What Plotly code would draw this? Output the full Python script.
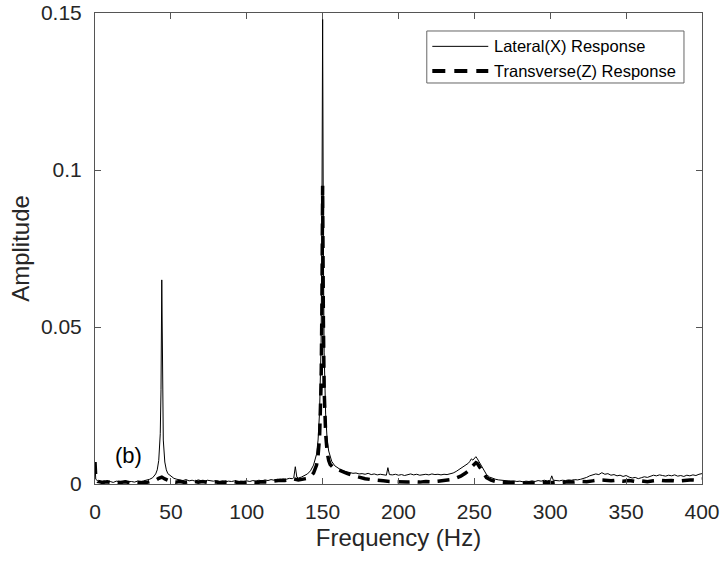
import plotly.graph_objects as go

# Lateral (X) response spectrum
lat_freq = [0, 0.5, 2, 4, 6, 8, 10, 12, 14, 16, 18, 20, 22, 24, 26, 28, 30, 32, 34, 36, 38, 40, 41, 42, 43, 43.5, 44, 44.5, 45, 46, 47, 48,
            50, 52, 54, 56, 58, 60, 62, 64, 66, 68, 70, 72, 74, 76, 78, 80, 82, 84, 86, 88, 90, 92, 94, 96, 98, 100,
            102, 104, 106, 108, 110, 112, 114, 116, 118, 120, 122, 124, 126, 128, 130, 131, 132, 133, 134, 136, 138, 140,
            142, 144, 146, 147, 148, 149, 149.5, 150, 150.5, 151, 152, 153, 154, 155, 156, 158, 160, 162, 164, 166, 168, 170,
            172, 174, 176, 178, 180, 182, 184, 186, 188, 190, 192, 193, 194, 196, 198, 200, 202, 204, 206, 208, 210,
            212, 214, 216, 218, 220, 222, 224, 226, 228, 230, 232, 234, 236, 238, 240, 242, 244, 246, 247, 248, 249, 250,
            251, 252, 253, 254, 256, 258, 260, 262, 264, 266, 268, 270, 272, 274, 276, 278, 280, 282, 284, 286, 288, 290,
            292, 294, 296, 298, 300, 301, 302, 304, 306, 308, 310, 312, 314, 316, 318, 320, 322, 324, 326, 328, 330,
            332, 334, 336, 338, 340, 342, 344, 346, 348, 350, 352, 354, 356, 358, 360, 362, 364, 366, 368, 370,
            372, 374, 376, 378, 380, 382, 384, 386, 388, 390, 392, 394, 396, 398, 400]
lat_amp = [0.0060, 0.0015, 0.0009, 0.0007, 0.0010, 0.0006, 0.0008, 0.0005, 0.0009, 0.0007, 0.0006, 0.0010, 0.0007, 0.0008,
           0.0006, 0.0009, 0.0007, 0.0010, 0.0012, 0.0015, 0.0020, 0.0032, 0.0045, 0.0075, 0.0160, 0.0300, 0.0650, 0.0280,
           0.0140, 0.0070, 0.0045, 0.0033,
           0.0024, 0.0018, 0.0015, 0.0013, 0.0011, 0.0014, 0.0010, 0.0012, 0.0009, 0.0013, 0.0011, 0.0008, 0.0012, 0.0010,
           0.0009, 0.0011, 0.0008, 0.0010, 0.0007, 0.0009, 0.0008, 0.0010, 0.0007, 0.0009, 0.0008, 0.0010,
           0.0008, 0.0011, 0.0009, 0.0012, 0.0010, 0.0013, 0.0011, 0.0014, 0.0012, 0.0015, 0.0013, 0.0016, 0.0015, 0.0018,
           0.0017, 0.0020, 0.0055, 0.0022, 0.0019, 0.0022, 0.0026, 0.0032,
           0.0042, 0.0060, 0.0095, 0.0140, 0.0230, 0.0450, 0.0800, 0.1480, 0.0750, 0.0420, 0.0220, 0.0140, 0.0105, 0.0085,
           0.0072, 0.0058, 0.0050, 0.0045, 0.0041, 0.0038, 0.0036, 0.0034,
           0.0035, 0.0032, 0.0033, 0.0031, 0.0034, 0.0030, 0.0032, 0.0029, 0.0031, 0.0030, 0.0028, 0.0052, 0.0030, 0.0029,
           0.0031, 0.0028, 0.0030, 0.0027, 0.0030, 0.0032, 0.0029,
           0.0031, 0.0028, 0.0030, 0.0031, 0.0029, 0.0032, 0.0030, 0.0031, 0.0029, 0.0031, 0.0030, 0.0032, 0.0035, 0.0040,
           0.0046, 0.0053, 0.0060, 0.0066, 0.0072, 0.0080, 0.0076, 0.0082,
           0.0087, 0.0080, 0.0072, 0.0062, 0.0045, 0.0030, 0.0022, 0.0018, 0.0015, 0.0013, 0.0012, 0.0010, 0.0011, 0.0009,
           0.0010, 0.0008, 0.0009, 0.0007, 0.0009, 0.0008, 0.0010, 0.0008,
           0.0011, 0.0009, 0.0012, 0.0010, 0.0012, 0.0026, 0.0012, 0.0011, 0.0010, 0.0012, 0.0011, 0.0013, 0.0012, 0.0014,
           0.0013, 0.0015, 0.0017, 0.0021, 0.0026, 0.0029, 0.0032,
           0.0030, 0.0036, 0.0031, 0.0033, 0.0028, 0.0030, 0.0026, 0.0028, 0.0024, 0.0027, 0.0022, 0.0019, 0.0021, 0.0017,
           0.0020, 0.0023, 0.0021, 0.0025, 0.0028, 0.0026,
           0.0029, 0.0027, 0.0025, 0.0028, 0.0026, 0.0029, 0.0025, 0.0027, 0.0024, 0.0028, 0.0026, 0.0029, 0.0027, 0.0031,
           0.0033]

# Transverse (Z) response spectrum
tra_freq = [0, 0.5, 2, 5, 8, 11, 14, 17, 20, 23, 26, 29, 32, 35, 38, 40, 42, 44, 46, 48, 50, 53, 56, 59, 62, 65, 68, 71,
            74, 77, 80, 83, 86, 89, 92, 95, 98, 101, 104, 107, 110, 113, 116, 119, 122, 125, 128, 131, 134, 137, 140,
            142, 144, 146, 147, 148, 149, 149.5, 150, 150.5, 151, 152, 153, 154, 155, 157, 160, 163, 166, 170, 174, 178,
            182, 186, 190, 194, 198, 202, 206, 210, 214, 218, 222, 226, 230, 234, 238, 241, 244, 246, 248, 250, 251,
            252, 254, 256, 258, 261, 264, 268, 272, 276, 280, 284, 288, 292, 296, 300, 304, 308, 312, 316, 320, 324,
            328, 332, 336, 340, 344, 348, 352, 356, 360, 364, 368, 372, 376, 380, 384, 388, 392, 396, 400]
tra_amp = [0.0070, 0.0020, 0.0008, 0.0005, 0.0007, 0.0004, 0.0006, 0.0005, 0.0007, 0.0004, 0.0006, 0.0005, 0.0004, 0.0006,
           0.0008, 0.0012, 0.0018, 0.0022, 0.0016, 0.0011, 0.0008, 0.0006, 0.0008, 0.0005, 0.0007, 0.0009, 0.0006, 0.0008,
           0.0005, 0.0007, 0.0006, 0.0004, 0.0006, 0.0005, 0.0007, 0.0004, 0.0005, 0.0004, 0.0006, 0.0005, 0.0007, 0.0006,
           0.0008, 0.0010, 0.0012, 0.0011, 0.0014, 0.0016, 0.0013, 0.0015, 0.0018,
           0.0024, 0.0035, 0.0060, 0.0090, 0.0150, 0.0320, 0.0550, 0.0950, 0.0520, 0.0300, 0.0160, 0.0100, 0.0075, 0.0062,
           0.0052, 0.0045, 0.0040, 0.0034, 0.0027, 0.0021, 0.0017,
           0.0014, 0.0011, 0.0010, 0.0008, 0.0007, 0.0008, 0.0006, 0.0007, 0.0006, 0.0008, 0.0007, 0.0009, 0.0011, 0.0014,
           0.0019, 0.0025, 0.0034, 0.0042, 0.0054, 0.0064, 0.0068,
           0.0065, 0.0050, 0.0032, 0.0020, 0.0012, 0.0008, 0.0006, 0.0005, 0.0004, 0.0005, 0.0003, 0.0004, 0.0003, 0.0005,
           0.0004, 0.0006, 0.0005, 0.0007, 0.0006, 0.0008, 0.0007,
           0.0010, 0.0013, 0.0012, 0.0010, 0.0012, 0.0009, 0.0011, 0.0008, 0.0010, 0.0007, 0.0010, 0.0012, 0.0010, 0.0011,
           0.0009, 0.0011, 0.0013, 0.0012, 0.0016]

series_names = ["Lateral(X) Response", "Transverse(Z) Response"]
x_ticks = [0, 50, 100, 150, 200, 250, 300, 350, 400]
y_ticks = [0, 0.05, 0.1, 0.15]
y_tick_labels = ["0", "0.05", "0.1", "0.15"]

TEXT = "#262626"
AXIS = "#555555"
FONT = "Liberation Sans"

solid_line = dict(color="black", width=1)
dashed_line = dict(color="black", width=3.5, dash="12px,8px")

fig = go.Figure()
fig.add_trace(go.Scatter(x=lat_freq, y=lat_amp, mode="lines", name=series_names[0],
                         line=solid_line, showlegend=False))
fig.add_trace(go.Scatter(x=tra_freq, y=tra_amp, mode="lines", name=series_names[1],
                         line=dashed_line, showlegend=False))

# panel tag
fig.add_annotation(x=22, y=0.0092, text="(b)", showarrow=False, xref="x", yref="y",
                   font=dict(size=22, color="black", family=FONT))

# boxed legend in the upper-right corner, drawn in paper coordinates
fig.add_shape(type="rect", xref="paper", yref="paper", x0=0.5466, x1=0.9703, y0=0.8514, y1=0.9618,
              line=dict(color="#666666", width=1), fillcolor="white", layer="above")
legend_rows = [0.9292, 0.8769]
legend_styles = [solid_line, dict(color="black", width=4, dash="13px,9px")]
for name, row, style in zip(series_names, legend_rows, legend_styles):
    fig.add_shape(type="line", xref="paper", yref="paper", x0=0.5557, x1=0.6479, y0=row, y1=row,
                  line=style, layer="above")
    fig.add_annotation(x=0.6570, y=row, xref="paper", yref="paper", text=name, showarrow=False,
                       xanchor="left", yanchor="middle", xshift=-2,
                       font=dict(size=16.5, color="black", family=FONT))

axis_common = dict(showline=True, linecolor=AXIS, linewidth=1, mirror="ticks", ticks="inside",
                   ticklen=6, tickcolor=AXIS, showgrid=False, zeroline=False, automargin=False,
                   tickfont=dict(size=21, color=TEXT, family=FONT))

fig.update_xaxes(range=[0, 400], tickvals=x_ticks, ticklabelstandoff=9,
                 title=dict(text="Frequency (Hz)", font=dict(size=24, color=TEXT, family=FONT), standoff=6),
                 **axis_common)
fig.update_yaxes(range=[0, 0.15], tickvals=y_ticks, ticktext=y_tick_labels, ticklabelstandoff=8,
                 title=dict(text="Amplitude", font=dict(size=24, color=TEXT, family=FONT), standoff=4),
                 **axis_common)

fig.update_layout(
    width=723, height=562,
    margin=dict(l=95, r=21, t=13, b=78),
    plot_bgcolor="white", paper_bgcolor="white",
    font=dict(family=FONT, color=TEXT),
    showlegend=False,
)

fig.write_html("out.html")
